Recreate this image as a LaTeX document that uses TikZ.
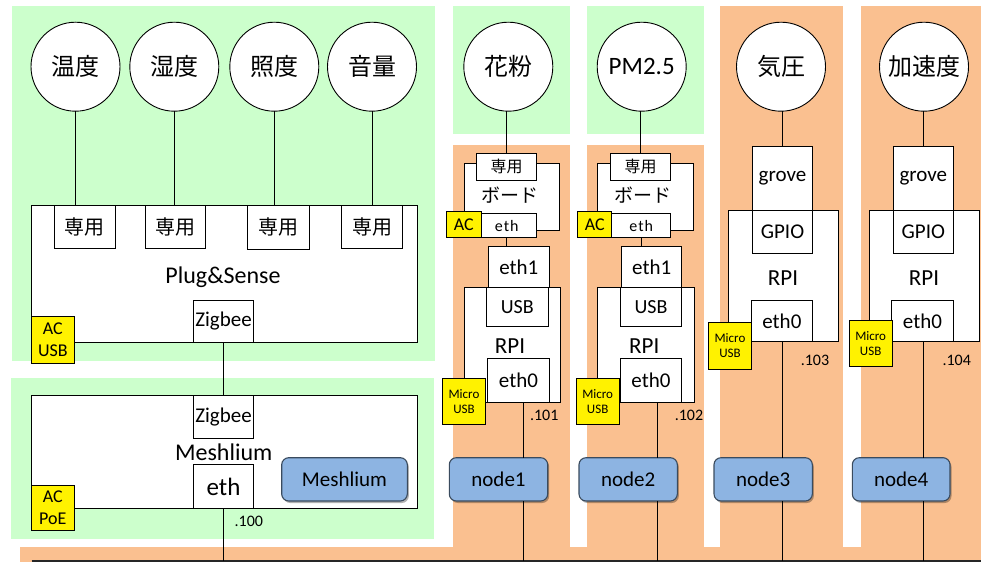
\documentclass[tikz,border=0pt]{standalone}
\usepackage{fontspec}
\setmainfont{Carlito}
\newfontfamily\jp{Noto Sans CJK JP}
\newfontfamily\lat{Carlito}
\usetikzlibrary{shadows}
\definecolor{grn}{HTML}{CCFFCC}
\definecolor{org}{HTML}{FAC090}
\definecolor{blu}{HTML}{8DB4E2}
\definecolor{bluedge}{HTML}{3A4B5E}
\newcommand\fsz[1]{\fontsize{#1}{#1}\selectfont}
\tikzset{
  box/.style={draw=black, fill=white, line width=0.9pt, inner sep=0pt, outer sep=0pt, align=center},
  sz/.style 2 args={minimum width=#1pt, minimum height=#2pt},
  sensor/.style={circle, draw=black, fill=white, line width=0.9pt, minimum size=89pt, inner sep=0pt, outer sep=0pt, font=\jp\fsz{24}},
  ybox/.style={box, fill=yellow},
  nodebox/.style={draw=bluedge, fill=blu, line width=1.1pt, rounded corners=7pt, inner sep=0pt, outer sep=0pt,
    drop shadow={shadow xshift=1.5pt, shadow yshift=-2pt, opacity=0.3, fill=black}},
  wire/.style={draw=black, line width=0.9pt},
  lbl/.style={inner sep=0pt}
}
\begin{document}
\begin{tikzpicture}[x=1pt,y=-1pt]
\useasboundingbox (0,0) rectangle (981,562);
% backgrounds
\fill[grn] (12,6) rectangle (435,360.7);
\fill[grn] (11,378.3) rectangle (434,539.3);
\fill[grn] (452.7,6) rectangle (570,134);
\fill[grn] (587.3,6) rectangle (704,134);
\fill[org] (452.7,145) rectangle (570,547.5);
\fill[org] (587.3,145) rectangle (704,547.5);
\fill[org] (720,6) rectangle (843.3,547.5);
\fill[org] (861.3,6) rectangle (981,547.5);
\fill[org] (20,547.3) rectangle (981,562);

% sensors
\node[sensor] (c1) at (75.5,66.7) {温度};
\node[sensor] (c2) at (174.3,66.7) {湿度};
\node[sensor] (c3) at (274.3,66.7) {照度};
\node[sensor] (c4) at (372,66.7) {音量};
\node[sensor] (c5) at (508.3,66.7) {花粉};
\node[sensor] (c6) at (641.7,66.7) {\lat\fsz{25}PM2.5};
\node[sensor] (c7) at (781,66.7) {気圧};
\node[sensor] (c8) at (924,66.7) {加速度};

% Plug&Sense
\node[box, sz={385.3}{137}] (ps) at (224.35,274.2) {};
\node[lbl, font=\fsz{24}, anchor=base] (pslbl) at (223,283) {Plug\&Sense};
\node[box, sz={61}{42.6}, font=\jp\fsz{20}] (s1) at (84.5,227) {専用};
\node[box, sz={60}{42.6}, font=\jp\fsz{20}] (s2) at (175,227) {専用};
\node[box, sz={62}{43.3}, font=\jp\fsz{20}] (s3) at (278,227.3) {専用};
\node[box, sz={61}{42.6}, font=\jp\fsz{20}] (s4) at (372.2,227) {専用};
\node[box, sz={59.6}{42.4}, font=\fsz{21}] (zp) at (223.5,321.5) {Zigbee};
\node[ybox, sz={42.3}{46.7}, font=\fontsize{18}{21.5}\selectfont] (psw) at (52.85,339.65) {AC\\USB};

% Meshlium
\node[box, sz={385.3}{113.3}] (mb) at (224.35,451.65) {};
\node[lbl, font=\fsz{24}, anchor=base] (mlbl) at (223.7,460) {Meshlium};
\node[box, sz={59.6}{43.3}, font=\fsz{21}] (zm) at (223.5,416.65) {Zigbee};
\node[box, sz={59.6}{43.6}, font=\fsz{25}] (em) at (223.5,486.5) {eth};
\node[ybox, sz={42.3}{45}, font=\fontsize{18}{21.5}\selectfont] (mpw) at (52.85,507.8) {AC\\PoE};
\node[nodebox, sz={125.6}{43.3}, font=\fsz{21}] (mbl) at (344.5,479.35) {Meshlium};
\node[lbl, font=\fsz{16}] (ip0) at (248.8,521) {.100};

% bus
\coordinate (busL) at (31.7,561);
\coordinate (busR) at (981,561);
\draw[line width=1.3pt, black!85] (busL) -- (busR);

% column 1
\node[box, sz={95.3}{67.4}] (bd1) at (511.65,197) {};
\node[lbl, font=\jp\fsz{19}] (bdl1) at (510,195) {ボード};
\node[box, sz={60}{26.7}, font=\jp\fsz{16}] (sp1) at (506.7,166.65) {専用};
\node[box, sz={60}{24.4}, font=\fsz{16}] (et1) at (506.7,225.5) {e\kern1pt t\kern1pt h};
\node[ybox, sz={34.3}{26.7}, font=\fsz{18}] (ac1) at (463.85,224.35) {AC};
\node[box, sz={61}{41.3}, font=\fsz{21}] (e1a) at (518.8,267.35) {eth1};
\node[box, sz={96.7}{115}] (rp1) at (512.35,344.8) {};
\node[lbl, font=\fsz{23}, anchor=base] (rl1) at (510,353.3) {RPI};
\node[box, sz={61.3}{39.4}, font=\fsz{20}] (us1) at (517.35,307) {USB};
\node[box, sz={61.6}{43.6}, font=\fsz{21}] (e01) at (518.5,380.5) {eth0};
\node[ybox, sz={42.6}{45.6}, font=\fontsize{13}{15.5}\selectfont] (mu1) at (464,401.5) {Micro\\USB};
\node[lbl, font=\fsz{16}] (ip1) at (544.2,415.7) {.101};
\node[nodebox, sz={98.4}{43.3}, font=\fsz{21}] (n1) at (498.5,479.35) {node1};
\coordinate (l1) at (523.3,561);

% column 2
\node[box, sz={96}{67.4}] (bd2) at (645.3,197) {};
\node[lbl, font=\jp\fsz{19}] (bdl2) at (643.3,195) {ボード};
\node[box, sz={60}{26.7}, font=\jp\fsz{16}] (sp2) at (640.7,166.65) {専用};
\node[box, sz={59}{24.4}, font=\fsz{16}] (et2) at (641.2,225.5) {e\kern1pt t\kern1pt h};
\node[ybox, sz={34}{26.7}, font=\fsz{18}] (ac2) at (594.7,224.35) {AC};
\node[box, sz={60}{41.3}, font=\fsz{21}] (e1b) at (651.7,267.35) {eth1};
\node[box, sz={97}{115}] (rp2) at (645.8,344.8) {};
\node[lbl, font=\fsz{23}, anchor=base] (rl2) at (644.3,353.3) {RPI};
\node[box, sz={61.4}{39.4}, font=\fsz{20}] (us2) at (651,307) {USB};
\node[box, sz={61.4}{43.6}, font=\fsz{21}] (e02) at (651,380.5) {eth0};
\node[ybox, sz={43.3}{45.6}, font=\fontsize{13}{15.5}\selectfont] (mu2) at (597.65,401.5) {Micro\\USB};
\node[lbl, font=\fsz{16}] (ip2) at (689,415.7) {.102};
\node[nodebox, sz={98.3}{43.3}, font=\fsz{21}] (n2) at (628.15,479.35) {node2};
\coordinate (l2) at (657.3,561);

% column 3
\node[box, sz={110}{131}] (rp3) at (783.3,275.5) {};
\node[box, sz={60.4}{64}, font=\fsz{21}] (g3) at (782.5,178) {grove};
\node[box, sz={60.4}{43.3}, font=\fsz{21}] (gp3) at (782.5,231.65) {GPIO};
\node[lbl, font=\fsz{23}, anchor=base] (rl3) at (783,285.5) {RPI};
\node[box, sz={61.7}{40.3}, font=\fsz{21}] (e03) at (781.85,320.85) {eth0};
\node[ybox, sz={43.4}{46.7}, font=\fontsize{13}{15.5}\selectfont] (mu3) at (730,345.65) {Micro\\USB};
\node[lbl, font=\fsz{16}] (ip3) at (815,360) {.103};
\node[nodebox, sz={98.3}{43.3}, font=\fsz{21}] (n3) at (763.15,479.35) {node3};
\coordinate (l3) at (782.7,561);

% column 4
\node[box, sz={110}{131}] (rp4) at (924.3,275.5) {};
\node[box, sz={60}{64}, font=\fsz{21}] (g4) at (923.3,178) {grove};
\node[box, sz={60}{43.3}, font=\fsz{21}] (gp4) at (923.3,231.65) {GPIO};
\node[lbl, font=\fsz{23}, anchor=base] (rl4) at (924,285.5) {RPI};
\node[box, sz={61.6}{40.3}, font=\fsz{21}] (e04) at (922.5,320.85) {eth0};
\node[ybox, sz={43.3}{45.3}, font=\fontsize{13}{15.5}\selectfont] (mu4) at (870.65,343.35) {Micro\\USB};
\node[lbl, font=\fsz{16}] (ip4) at (956.7,360) {.104};
\node[nodebox, sz={97.7}{43.3}, font=\fsz{21}] (n4) at (901.15,479.35) {node4};
\coordinate (l4) at (923.3,561);

% wires
\draw[wire] (c1.south) -- (c1.south |- s1.north);
\draw[wire] (c2.south) -- (c2.south |- s2.north);
\draw[wire] (c3.south) -- (c3.south |- s3.north);
\draw[wire] (c4.south) -- (c4.south |- s4.north);
\draw[wire] (zp.south) -- (zm.north);
\draw[wire] (em.south) -- (em.south |- busL);

\draw[wire] (c5.south -| sp1.north) -- (sp1.north);
\draw[wire] (et1.south) -- (et1.south |- e1a.north);
\draw[wire] (e01.south -| l1) -- (n1.north -| l1);
\draw[wire] (n1.south -| l1) -- (l1);

\draw[wire] (c6.south -| sp2.north) -- (sp2.north);
\draw[wire] (et2.south) -- (et2.south |- e1b.north);
\draw[wire] (e02.south -| l2) -- (n2.north -| l2);
\draw[wire] (n2.south -| l2) -- (l2);

\draw[wire] (c7.south -| g3.north) -- (g3.north);
\draw[wire] (e03.south -| l3) -- (n3.north -| l3);
\draw[wire] (n3.south -| l3) -- (l3);

\draw[wire] (c8.south -| g4.north) -- (g4.north);
\draw[wire] (e04.south -| l4) -- (n4.north -| l4);
\draw[wire] (n4.south -| l4) -- (l4);
\end{tikzpicture}
\end{document}
